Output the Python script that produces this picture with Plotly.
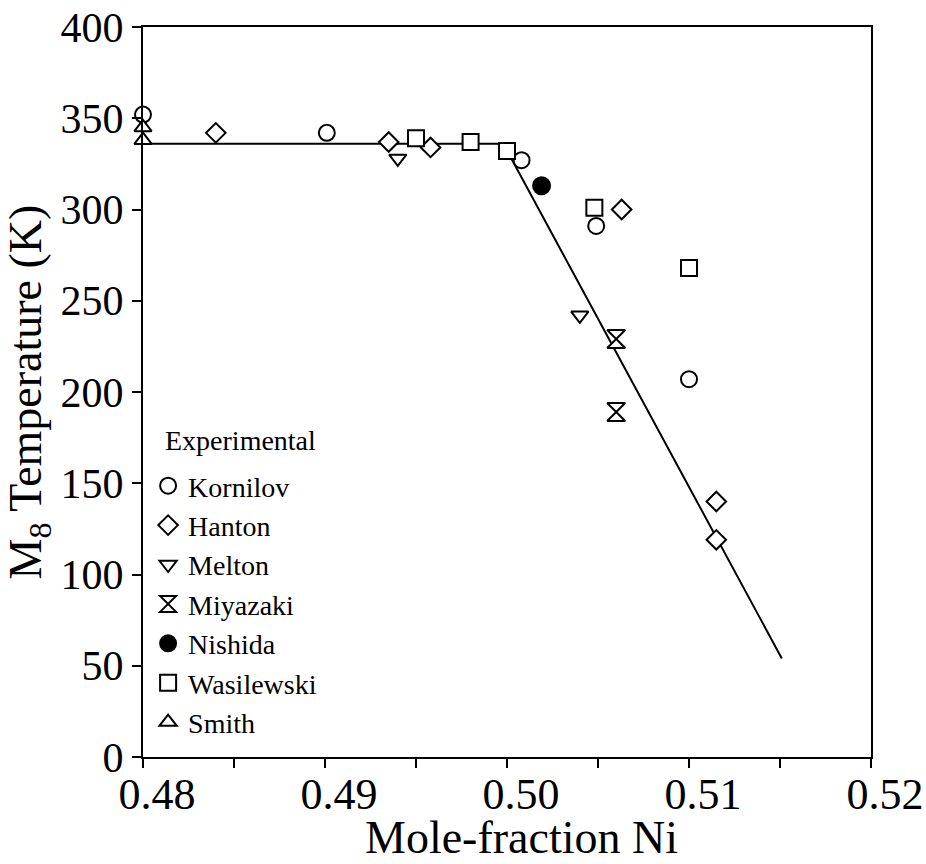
import plotly.graph_objects as go

# Experimental Ms data (mole-fraction Ni, temperature in K)
kornilov_x = [0.4800, 0.4901, 0.5008, 0.5049, 0.5100]
kornilov_y = [352, 342, 327, 291, 207]
hanton_x = [0.4840, 0.4935, 0.4958, 0.5063, 0.5115, 0.5115]
hanton_y = [342, 337, 334, 300, 140, 119]
melton_x = [0.4940, 0.5040]
melton_y = [328, 242]
miyazaki_x = [0.5060, 0.5060]
miyazaki_y = [229, 189]
nishida_x = [0.5019]
nishida_y = [313]
wasilewski_x = [0.4950, 0.4980, 0.5000, 0.5048, 0.5100]
wasilewski_y = [339, 337, 332, 301, 268]
smith_x = [0.4800, 0.4800]
smith_y = [345, 338]

# Model curve
fit_x = [0.4800, 0.4998, 0.5151]
fit_y = [336, 336, 54]

x_ticks = [0.48, 0.49, 0.50, 0.51, 0.52]
x_labels = ["0.48", "0.49", "0.50", "0.51", "0.52"]
x_minor = [0.485, 0.495, 0.505, 0.515]

FONT = "Liberation Serif, Times New Roman, serif"

fig = go.Figure()
fig.add_trace(go.Scatter(x=fit_x, y=fit_y, mode="lines",
                         line=dict(color="black", width=2),
                         showlegend=False, hoverinfo="skip"))

series = [
    ("Kornilov", kornilov_x, kornilov_y, "circle", 16, "white"),
    ("Hanton", hanton_x, hanton_y, "diamond", 15, "white"),
    ("Melton", melton_x, melton_y, "triangle-down", 15, "white"),
    ("Miyazaki", miyazaki_x, miyazaki_y, "hourglass", 18, "white"),
    ("Nishida", nishida_x, nishida_y, "circle", 17, "black"),
    ("Wasilewski", wasilewski_x, wasilewski_y, "square", 16, "white"),
    ("Smith", smith_x, smith_y, "triangle-up", 15, "white"),
]
for name, xs, ys, sym, size, fill in series:
    fig.add_trace(go.Scatter(
        x=xs, y=ys, mode="markers", name=name, cliponaxis=False,
        marker=dict(symbol=sym, size=size, color=fill,
                    line=dict(color="black", width=2))))

fig.update_layout(
    width=926, height=864,
    margin=dict(l=143, r=55, t=27, b=107),
    paper_bgcolor="white", plot_bgcolor="white",
    font=dict(family=FONT, color="black"),
    legend=dict(
        x=0.007, y=0.4055, xanchor="left", yanchor="top",
        font=dict(size=28, family=FONT),
        itemsizing="trace", bgcolor="rgba(0,0,0,0)", tracegroupgap=0,
    ),
    xaxis=dict(
        range=[0.48, 0.52], tickvals=x_ticks, ticktext=x_labels,
        ticks="outside", ticklen=9, tickwidth=2, tickcolor="black",
        minor=dict(tickvals=x_minor, ticks="outside",
                   ticklen=9, tickwidth=2, tickcolor="black"),
        showline=True, linecolor="black", linewidth=2, mirror=True,
        showgrid=False, zeroline=False, automargin=False,
        tickfont=dict(size=44, family=FONT),
        ticklabelstandoff=-12, ticklabelshift=14, ticklabeloverflow="allow",
    ),
    yaxis=dict(
        range=[0, 400], dtick=50,
        ticks="outside", ticklen=9, tickwidth=2, tickcolor="black",
        showline=True, linecolor="black", linewidth=2, mirror=True,
        showgrid=False, zeroline=False, automargin=False,
        tickfont=dict(size=42, family=FONT),
        title=dict(text="M<sub>8</sub> Temperature (K)",
                   font=dict(size=46, family=FONT), standoff=6),
    ),
    annotations=[
        dict(text="Experimental", xref="paper", yref="paper",
             x=0.028, y=0.434, xanchor="left", yanchor="middle",
             showarrow=False, font=dict(size=28, family=FONT)),
        dict(text="Mole-fraction Ni", xref="paper", yref="paper",
             x=0.52, y=-0.11, xanchor="center", yanchor="middle",
             showarrow=False, font=dict(size=46, family=FONT)),
    ],
)

fig.write_html("out.html")
